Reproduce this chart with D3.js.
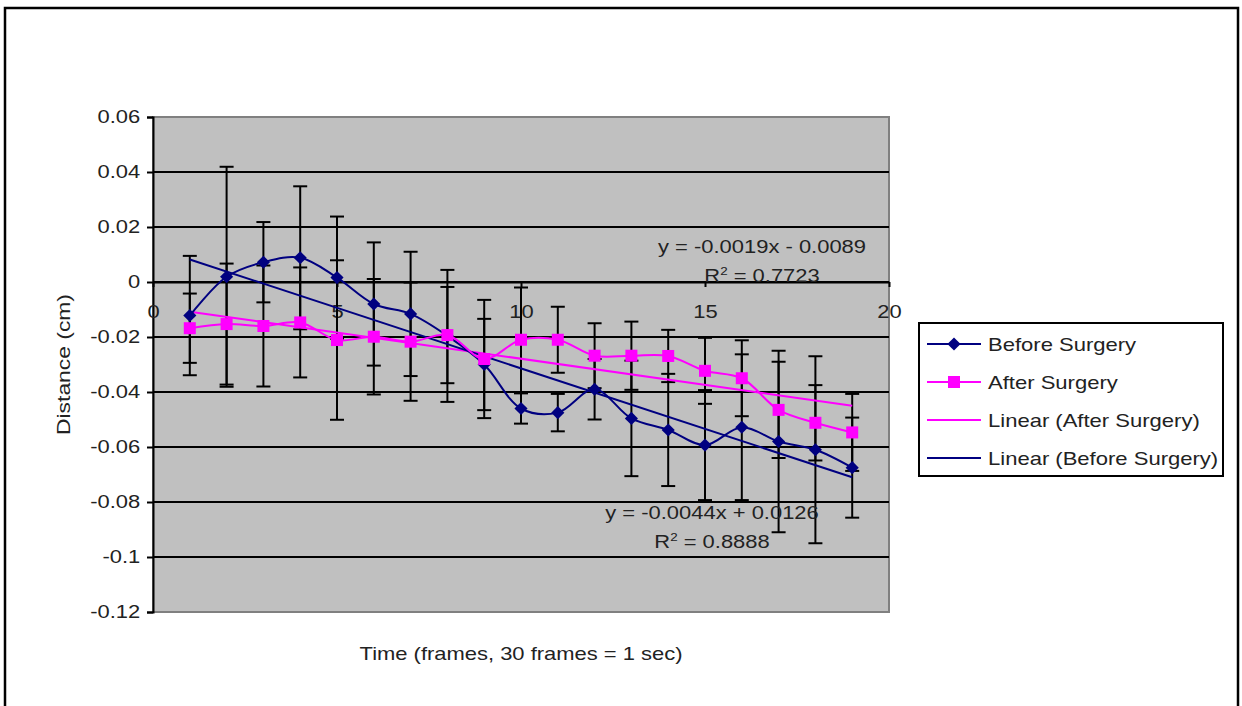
<!DOCTYPE html>
<html>
<head>
<meta charset="utf-8">
<script src="https://cdn.jsdelivr.net/npm/d3@7"></script>
<style>
  body { margin: 0; background: #fff; }
  text { font-family: "Liberation Sans", Arial, sans-serif; fill: #222; }
</style>
</head>
<body>
<div id="container"></div>
<script>
// DATA
const frames = [1, 2, 3, 4, 5, 6, 7, 8, 9, 10, 11, 12, 13, 14, 15, 16, 17, 18, 19];
const beforeValues = [-0.0122, 0.0019, 0.0072, 0.0088, 0.0016, -0.008, -0.0116, -0.0196, -0.030, -0.046,
  -0.0475, -0.039, -0.0496, -0.0538, -0.0593, -0.0528, -0.058, -0.061, -0.0675];
const beforeErrors = [0.0217, 0.040, 0.0146, 0.026, 0.0222, 0.0224, 0.0226, 0.024, 0.0166, 0.0055,
  0.0068, 0.011, 0.021, 0.0204, 0.020, 0.0265, 0.033, 0.034, 0.0182];
const afterValues = [-0.0168, -0.0153, -0.016, -0.0147, -0.0211, -0.0199, -0.0217, -0.0193, -0.028, -0.021,
  -0.021, -0.0268, -0.0268, -0.0269, -0.0323, -0.035, -0.0465, -0.0512, -0.0547];
const afterErrors = [0.0126, 0.022, 0.022, 0.020, 0.029, 0.021, 0.0215, 0.0175, 0.0215, 0.019,
  0.012, 0.0118, 0.0124, 0.0095, 0.012, 0.0138, 0.0175, 0.0137, 0.014];

// trendlines as printed on the chart
const beforeTrend = [-0.0044, 0.0126]; // slope, intercept
const afterTrend = [-0.0019, -0.0089];
const beforeTrendLabels = ["y = -0.0044x + 0.0126", "0.8888"];
const afterTrendLabels = ["y = -0.0019x - 0.0089", "0.7723"];

const xTicks = [0, 5, 10, 15, 20];
const yTicks = [0.06, 0.04, 0.02, 0, -0.02, -0.04, -0.06, -0.08, -0.1, -0.12];
const yTickLabels = ["0.06", "0.04", "0.02", "0", "-0.02", "-0.04", "-0.06", "-0.08", "-0.1", "-0.12"];
const legendLabels = ["Before Surgery", "After Surgery", "Linear (After Surgery)", "Linear (Before Surgery)"];

const NAVY = "#000080", MAGENTA = "#ff00ff";
const SX = 1.22; // the original text is rendered a bit wide

const width = 1242, height = 706;
const plot = { left: 153, right: 889, top: 117, bottom: 612 };

const svg = d3.select("#container")
  .append("svg")
  .attr("width", width)
  .attr("height", height);

// helper: wide text placed at x,y
function wideText(x, y, str, size, anchor, sx, rot) {
  const g = svg.append("g")
    .attr("transform", `translate(${x}, ${y})` + (rot ? ` rotate(${rot})` : "") + ` scale(${sx}, 1)`);
  return g.append("text")
    .attr("text-anchor", anchor)
    .attr("font-size", size)
    .text(str);
}

// outer chart frame
svg.append("rect")
  .attr("x", 5).attr("y", 8)
  .attr("width", 1233).attr("height", 720)
  .attr("fill", "#fff")
  .attr("stroke", "#000")
  .attr("stroke-width", 2.5);

// SCALES
const xScale = d3.scaleLinear().domain([0, 20]).range([plot.left, plot.right]);
const yScale = d3.scaleLinear().domain([-0.12, 0.06]).range([plot.bottom, plot.top]);

// plot area
svg.append("rect")
  .attr("x", plot.left).attr("y", plot.top)
  .attr("width", plot.right - plot.left).attr("height", plot.bottom - plot.top)
  .attr("fill", "#c0c0c0")
  .attr("stroke", "#808080")
  .attr("stroke-width", 2);

// gridlines
svg.append("g")
  .selectAll("line")
  .data(yTicks.filter(d => d !== 0.06 && d !== -0.12))
  .join("line")
  .attr("x1", plot.left).attr("x2", plot.right)
  .attr("y1", d => yScale(d)).attr("y2", d => yScale(d))
  .attr("stroke", "#000")
  .attr("stroke-width", 2);

// Y AXIS
const yAxis = d3.axisLeft(yScale)
  .tickValues(yTicks)
  .tickSize(6)
  .tickPadding(4.5)
  .tickFormat((d, i) => yTickLabels[i]);

const yAxisGroup = svg.append("g")
  .attr("transform", `translate(${plot.left}, 0)`)
  .call(yAxis);
yAxisGroup.select(".domain").attr("stroke", "#000").attr("stroke-width", 2);
yAxisGroup.selectAll(".tick line").attr("stroke", "#000").attr("stroke-width", 2);
yAxisGroup.selectAll(".tick text")
  .attr("font-size", 18)
  .attr("transform", `scale(${SX}, 1)`)
  .style("font-family", "'Liberation Sans', Arial, sans-serif")
  .attr("fill", "#222");

// X AXIS (crosses at y = 0)
const xAxis = d3.axisBottom(xScale)
  .tickValues(xTicks)
  .tickSize(5)
  .tickSizeOuter(0)
  .tickPadding(18);

const xAxisGroup = svg.append("g")
  .attr("transform", `translate(0, ${yScale(0)})`)
  .call(xAxis);
xAxisGroup.select(".domain").attr("stroke", "#000").attr("stroke-width", 2);
xAxisGroup.selectAll(".tick line").attr("stroke", "#000").attr("stroke-width", 2);
xAxisGroup.selectAll(".tick text")
  .attr("font-size", 18)
  .attr("transform", `scale(${SX}, 1)`)
  .style("font-family", "'Liberation Sans', Arial, sans-serif")
  .attr("fill", "#222");

// axis titles
wideText(xScale(10), 660, "Time (frames, 30 frames = 1 sec)", 18, "middle", SX);
wideText(70, yScale(-0.03), "Distance (cm)", 18, "middle", 1.27, -90);

// ERROR BARS
function errorBars(values, errors) {
  const g = svg.append("g").attr("stroke", "#000").attr("stroke-width", 2);
  frames.forEach((f, i) => {
    const x = xScale(f);
    const hi = yScale(values[i] + errors[i]);
    const lo = yScale(values[i] - errors[i]);
    g.append("line").attr("x1", x).attr("x2", x).attr("y1", hi).attr("y2", lo);
    g.append("line").attr("x1", x - 7).attr("x2", x + 7).attr("y1", hi).attr("y2", hi);
    g.append("line").attr("x1", x - 7).attr("x2", x + 7).attr("y1", lo).attr("y2", lo);
  });
}
errorBars(beforeValues, beforeErrors);
errorBars(afterValues, afterErrors);

// SMOOTHED SERIES LINES
const smooth = d3.line()
  .x(d => xScale(d[0]))
  .y(d => yScale(d[1]))
  .curve(d3.curveCatmullRom.alpha(0.5));

const beforeData = frames.map((f, i) => [f, beforeValues[i]]);
const afterData = frames.map((f, i) => [f, afterValues[i]]);

// TRENDLINES
const trendLine = d3.line().x(d => xScale(d[0])).y(d => yScale(d[1]));
function trendPoints(t) {
  const x0 = frames[0], x1 = frames[frames.length - 1];
  return [[x0, t[0] * x0 + t[1]], [x1, t[0] * x1 + t[1]]];
}

svg.append("path")
  .datum(trendPoints(afterTrend))
  .attr("fill", "none").attr("stroke", MAGENTA).attr("stroke-width", 2)
  .attr("d", trendLine);

svg.append("path")
  .datum(trendPoints(beforeTrend))
  .attr("fill", "none").attr("stroke", NAVY).attr("stroke-width", 2)
  .attr("d", trendLine);

svg.append("path")
  .datum(beforeData)
  .attr("fill", "none").attr("stroke", NAVY).attr("stroke-width", 2)
  .attr("d", smooth);

svg.append("path")
  .datum(afterData)
  .attr("fill", "none").attr("stroke", MAGENTA).attr("stroke-width", 2)
  .attr("d", smooth);

// MARKERS
const diamond = d3.symbol().type(d3.symbolDiamond2).size(110);
svg.append("g")
  .selectAll("path")
  .data(beforeData)
  .join("path")
  .attr("transform", d => `translate(${xScale(d[0])}, ${yScale(d[1])})`)
  .attr("d", diamond)
  .attr("fill", NAVY);

svg.append("g")
  .selectAll("rect")
  .data(afterData)
  .join("rect")
  .attr("x", d => xScale(d[0]) - 6)
  .attr("y", d => yScale(d[1]) - 6)
  .attr("width", 12).attr("height", 12)
  .attr("fill", MAGENTA);

// TRENDLINE LABELS
function trendLabel(cx, cy, labels) {
  wideText(cx, cy, labels[0], 18, "middle", SX).attr("fill", "#333");
  const r = wideText(cx, cy + 29, "", 18, "middle", SX).attr("fill", "#333");
  r.append("tspan").text("R");
  r.append("tspan").attr("font-size", 11).attr("dy", -7).text("2");
  r.append("tspan").attr("dy", 7).text(" = " + labels[1]);
}
trendLabel(762, 253, afterTrendLabels);
trendLabel(712, 519, beforeTrendLabels);

// LEGEND
const legend = svg.append("g");
legend.append("rect")
  .attr("x", 919).attr("y", 323)
  .attr("width", 304).attr("height", 153)
  .attr("fill", "#fff")
  .attr("stroke", "#000")
  .attr("stroke-width", 2);

const legendColors = [NAVY, MAGENTA, MAGENTA, NAVY];
legendLabels.forEach((label, i) => {
  const y = 344 + i * 38;
  legend.append("line")
    .attr("x1", 927).attr("x2", 981).attr("y1", y).attr("y2", y)
    .attr("stroke", legendColors[i]).attr("stroke-width", 2);
  if (i === 0) {
    legend.append("path")
      .attr("transform", `translate(954, ${y})`)
      .attr("d", diamond)
      .attr("fill", NAVY);
  } else if (i === 1) {
    legend.append("rect")
      .attr("x", 948).attr("y", y - 6)
      .attr("width", 12).attr("height", 12)
      .attr("fill", MAGENTA);
  }
  wideText(988, y + 7, label, 19, "start", 1.16);
});
</script>
</body>
</html>
